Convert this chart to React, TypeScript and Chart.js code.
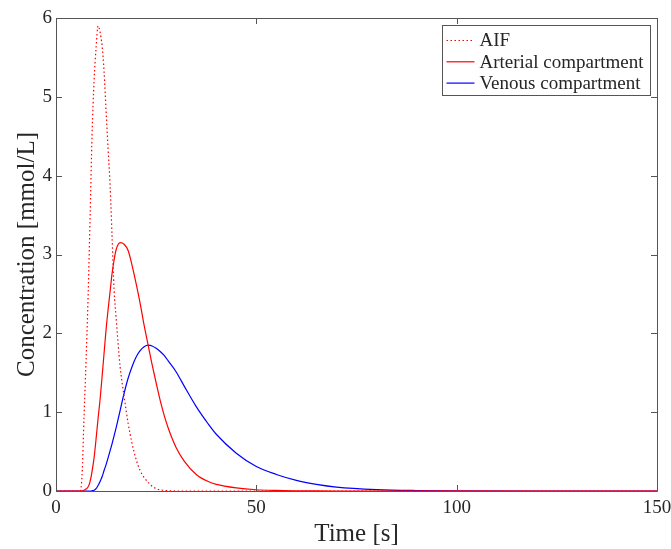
import React, { useEffect, useRef } from "react";
import { Chart, registerables } from "chart.js";

Chart.register(...registerables);

const timeS = [0, 5, 6, 6.5, 7, 7.5, 8, 8.5, 9, 9.5, 10, 10.5, 11, 11.5, 12, 12.5, 13, 13.5, 14, 14.5, 15, 16, 17, 18, 19, 20, 21, 22, 23, 24, 25, 26, 27, 28, 30, 32, 35, 38, 40, 45, 50, 55, 60, 65, 70, 80, 90, 100, 120, 150];

const aif = [0, 0, 0, 0.2, 0.95, 1.65, 2.45, 3.45, 4.52, 5.2,
  5.62, 5.9, 5.82, 5.65, 5.32, 4.82, 4.34, 3.88, 3.22, 2.55,
  2.2, 1.58, 1.2, 0.86, 0.6, 0.4, 0.26, 0.17, 0.11, 0.06,
  0.03, 0.015, 0.008, 0.004, 0, 0, 0, 0, 0, 0,
  0, 0, 0, 0, 0, 0, 0, 0, 0, 0];

const arterial = [0, 0, 0, 0, 0.01, 0.025, 0.05, 0.12, 0.25, 0.42,
  0.66, 0.92, 1.16, 1.45, 1.75, 2.05, 2.3, 2.53, 2.76, 2.93,
  3.06, 3.15, 3.13, 3.05, 2.86, 2.63, 2.38, 2.1, 1.85, 1.6,
  1.37, 1.15, 0.96, 0.8, 0.55, 0.38, 0.21, 0.12, 0.085, 0.04,
  0.016, 0.007, 0.003, 0.001, 0, 0, 0, 0, 0, 0];

const venous = [0, 0, 0, 0, 0, 0, 0, 0, 0.003, 0.01,
  0.03, 0.07, 0.12, 0.18, 0.26, 0.335, 0.42, 0.51, 0.6, 0.7,
  0.8, 1.02, 1.24, 1.43, 1.58, 1.7, 1.78, 1.83, 1.85, 1.84,
  1.81, 1.77, 1.72, 1.65, 1.51, 1.33, 1.07, 0.85, 0.72, 0.48,
  0.31, 0.21, 0.135, 0.085, 0.05, 0.018, 0.006, 0.002, 0, 0];

const seriesNames = ["AIF", "Arterial compartment", "Venous compartment"];
const seriesColors = ["#ff0000", "#ff0000", "#0000ff"];
const seriesDashes: number[][] = [[1.5, 2.5], [], []];
const xTicks = [0, 50, 100, 150];
const yTicks = [0, 1, 2, 3, 4, 5, 6];

const FONT = "'Liberation Serif', 'Times New Roman', serif";
const TEXT = "#262626";
const AXIS = "#555555";

const boxPlugin = {
  id: "matlabBox",
  afterDraw(chart: any) {
    const { ctx, chartArea } = chart;
    const { left, right, top, bottom } = chartArea;
    const xs = chart.scales.x;
    const ys = chart.scales.y;
    ctx.save();
    ctx.strokeStyle = AXIS;
    ctx.lineWidth = 1;
    ctx.beginPath();
    ctx.rect(Math.round(left) + 0.5, Math.round(top) + 0.5, Math.round(right - left), Math.round(bottom - top));
    ctx.stroke();
    const tl = 6;
    ctx.beginPath();
    xTicks.forEach((v) => {
      const px = Math.round(xs.getPixelForValue(v)) + 0.5;
      ctx.moveTo(px, bottom);
      ctx.lineTo(px, bottom - tl);
      ctx.moveTo(px, top);
      ctx.lineTo(px, top + tl);
    });
    yTicks.forEach((v) => {
      const py = Math.round(ys.getPixelForValue(v)) + 0.5;
      ctx.moveTo(left, py);
      ctx.lineTo(left + tl, py);
      ctx.moveTo(right, py);
      ctx.lineTo(right - tl, py);
    });
    ctx.stroke();

    // legend
    const lx = Math.round(right - 215) + 0.5;
    const ly = Math.round(top + 7) + 0.5;
    const lw = 208;
    const lh = 70;
    ctx.fillStyle = "#ffffff";
    ctx.fillRect(lx, ly, lw, lh);
    ctx.strokeStyle = AXIS;
    ctx.strokeRect(lx, ly, lw, lh);
    ctx.font = `19px ${FONT}`;
    ctx.textBaseline = "middle";
    ctx.textAlign = "left";
    seriesNames.forEach((name, i) => {
      const cy = ly + 15 + i * 21.3;
      ctx.strokeStyle = seriesColors[i];
      ctx.lineWidth = 1.2;
      ctx.setLineDash(seriesDashes[i]);
      ctx.beginPath();
      ctx.moveTo(lx + 4, cy);
      ctx.lineTo(lx + 32, cy);
      ctx.stroke();
      ctx.setLineDash([]);
      ctx.fillStyle = TEXT;
      ctx.fillText(name, lx + 37, cy + 1);
    });
    ctx.restore();
  },
};

export default function App() {
  const ref = useRef<HTMLCanvasElement | null>(null);
  useEffect(() => {
    document.body.style.margin = "0";
    const canvas = ref.current;
    if (!canvas) return;
    const allSeries = [aif, arterial, venous];
    const chart = new Chart(canvas, {
      type: "line",
      data: {
        datasets: allSeries.map((vals, i) => ({
          label: seriesNames[i],
          data: timeS.map((t, j) => ({ x: t, y: vals[j] })),
          borderColor: seriesColors[i],
          borderWidth: 1.2,
          borderDash: seriesDashes[i],
          pointRadius: 0,
          fill: false,
          cubicInterpolationMode: "monotone" as const,
        })),
      },
      options: {
        responsive: false,
        animation: false,
        layout: { padding: { left: 0, right: 14, top: 18, bottom: 0 } },
        plugins: { legend: { display: false }, tooltip: { enabled: false } },
        scales: {
          x: {
            type: "linear",
            min: 0,
            max: 150,
            grid: { display: false, drawTicks: false },
            border: { display: false },
            ticks: {
              stepSize: 50,
              padding: 6,
              color: TEXT,
              font: { family: FONT, size: 19 },
            },
            title: {
              display: true,
              text: "Time [s]",
              color: TEXT,
              font: { family: FONT, size: 25 },
              padding: { top: 0, bottom: 0 },
            },
            afterFit: (s: any) => {
              s.height = 58;
              s.paddingLeft = 0;
              s.paddingRight = 0;
            },
          },
          y: {
            type: "linear",
            min: 0,
            max: 6,
            grid: { display: false, drawTicks: false },
            border: { display: false },
            ticks: {
              stepSize: 1,
              padding: 4,
              color: TEXT,
              font: { family: FONT, size: 19 },
            },
            title: {
              display: true,
              text: "Concentration [mmol/L]",
              color: TEXT,
              font: { family: FONT, size: 25 },
              padding: { top: 12, bottom: 0 },
            },
            afterFit: (s: any) => {
              s.width = 56;
              s.paddingTop = 0;
              s.paddingBottom = 0;
            },
          },
        },
      },
      plugins: [boxPlugin],
    });
    return () => chart.destroy();
  }, []);
  return (
    <div style={{ width: 671, height: 549 }}>
      <canvas ref={ref} width={671} height={549} style={{ display: "block" }} />
    </div>
  );
}
